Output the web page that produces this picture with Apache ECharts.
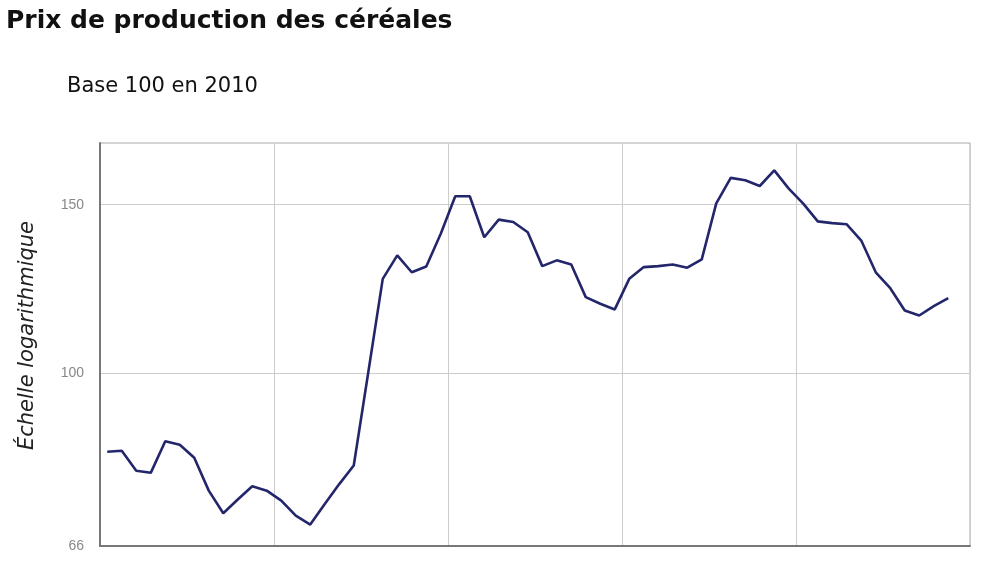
<!DOCTYPE html>
<html>
<head>
<meta charset="utf-8">
<script src="https://cdn.jsdelivr.net/npm/echarts@6/dist/echarts.min.js"></script>
<style>
  html, body { margin: 0; padding: 0; background: #fff; }
  #chart { width: 1000px; height: 561px; }
</style>
</head>
<body>
<div id="chart"></div>
<script>
// monthly index, base 100 in 2010 (Jan 2009 - Nov 2013)
const years = ['2009', '2010', '2011', '2012', '2013'];
const months = [];
for (let y of years) {
  for (let m = 1; m <= 12; m++) months.push(y + '-' + String(m).padStart(2, '0'));
}
const prices = [
  82.8, 83.0, 79.1, 78.7, 84.9, 84.2, 81.6, 75.4, 71.4, 73.8, 76.2, 75.4,
  73.6, 71.0, 69.5, 73.0, 76.6, 80.1, 100.2, 125.5, 132.8, 127.5, 129.3, 139.9,
  153.1, 153.1, 138.7, 144.7, 143.9, 140.4, 129.4, 131.2, 129.9, 120.1, 118.2, 116.6,
  125.5, 129.1, 129.4, 129.9, 128.9, 131.5, 150.5, 160.0, 159.1, 156.9, 162.9, 155.9,
  150.4, 144.1, 143.5, 143.1, 137.6, 127.5, 122.7, 116.3, 114.9, 117.5, 119.8
];
const yTicks = [66, 100, 150];

let chart = echarts.init(document.getElementById('chart'));
chart.setOption({
  animation: false,
  title: [
    {text: 'Prix de production des céréales', left: 1, top: 4,
     textStyle: {fontFamily: 'DejaVu Sans', fontSize: 25, fontWeight: 'bold', color: '#111'}},
    {text: 'Base 100 en 2010', left: 62, top: 71,
     textStyle: {fontFamily: 'DejaVu Sans', fontSize: 21, fontWeight: 'normal', color: '#111'}}
  ],
  grid: {left: 100, right: 30, top: 143, bottom: 15, show: true, borderColor: '#aaa', borderWidth: 1},
  xAxis: {
    type: 'category',
    data: months,
    boundaryGap: true,
    axisLine: {lineStyle: {color: '#777', width: 2}},
    axisTick: {interval: 11, length: 7, lineStyle: {color: '#777', width: 2}},
    axisLabel: {show: false},
    splitLine: {show: true, interval: 11, lineStyle: {color: '#ccc', width: 1}}
  },
  yAxis: {
    type: 'log',
    logBase: 10,
    min: 66,
    max: 174,
    name: 'Échelle logarithmique',
    nameLocation: 'middle',
    nameRotate: 90,
    nameGap: 62,
    nameTextStyle: {fontFamily: 'DejaVu Sans', fontStyle: 'italic', fontSize: 21, color: '#222', padding: [0, 0, 0, 18]},
    axisLine: {show: true, lineStyle: {color: '#777', width: 2}},
    axisTick: {show: false, customValues: yTicks},
    axisLabel: {customValues: yTicks, margin: 16, color: '#888', fontFamily: 'Liberation Sans', fontSize: 14},
    splitLine: {show: true, lineStyle: {color: '#ccc', width: 1}}
  },
  series: [{
    type: 'line',
    data: prices,
    symbol: 'none',
    lineStyle: {color: '#23266b', width: 2.6}
  }]
});
</script>
</body>
</html>
